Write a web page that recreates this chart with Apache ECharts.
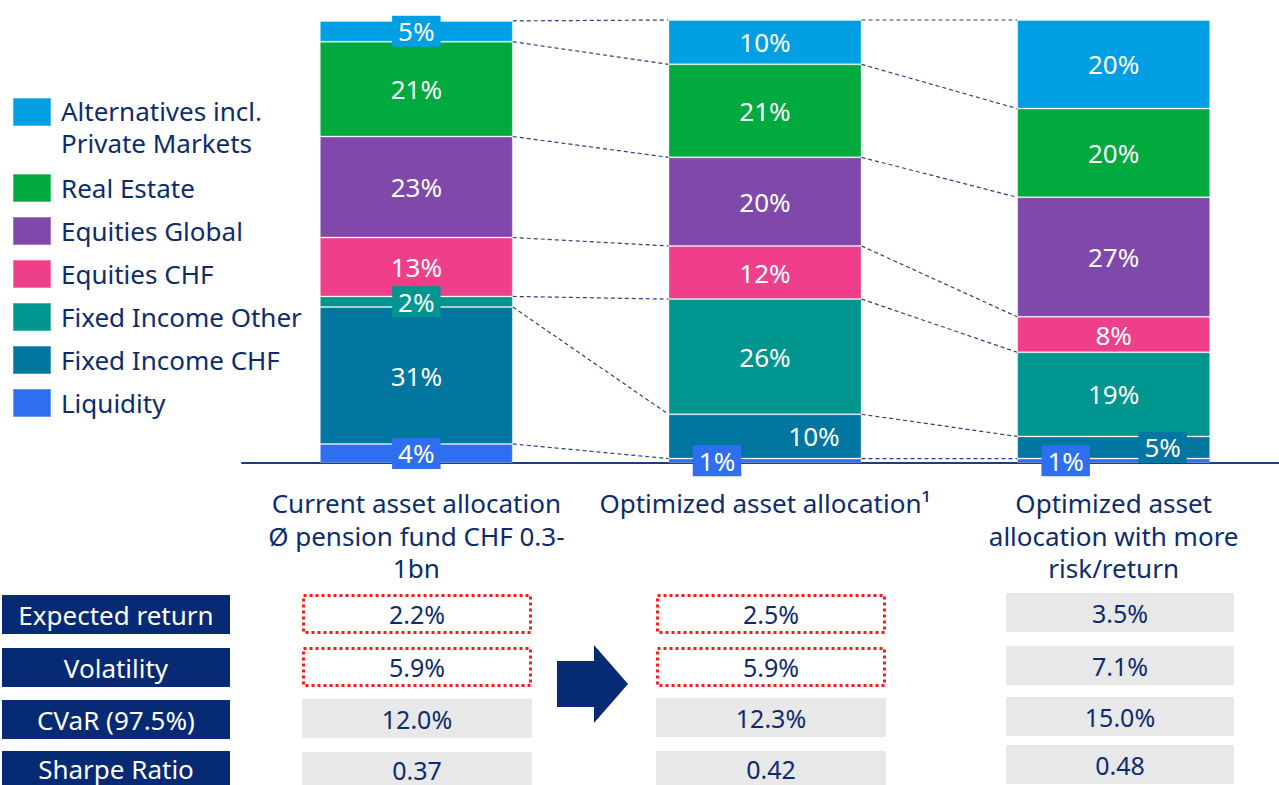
<!DOCTYPE html>
<html><head><meta charset="utf-8">
<script src="https://cdn.jsdelivr.net/npm/echarts@6/dist/echarts.min.js"></script>
<style>html,body{margin:0;padding:0;background:#fff}#main{width:1279px;height:785px}</style>
</head><body><div id="main"></div>
<script>
// ---------- DATA ----------
const categories = [
  'Current asset allocation\nØ pension fund CHF 0.3-\n1bn',
  'Optimized asset allocation¹',
  'Optimized asset\nallocation with more\nrisk/return'
];
const seriesNames = ['Liquidity', 'Fixed Income CHF', 'Fixed Income Other', 'Equities CHF',
  'Equities Global', 'Real Estate', 'Alternatives incl.\nPrivate Markets'];
const liquidity        = [4.3, 1, 1];
const fixedIncomeCHF   = [30.9, 10, 5];
const fixedIncomeOther = [2.4, 26, 19];
const equitiesCHF      = [13.3, 12, 8];
const equitiesGlobal   = [22.8, 20, 27];
const realEstate       = [21.4, 21, 20];
const alternatives     = [4.7, 10, 20];

const metricNames = ['Expected return', 'Volatility', 'CVaR (97.5%)', 'Sharpe Ratio'];
const metricsCurrent   = [2.2, 5.9, 12.0, 0.37];
const metricsOptimized = [2.5, 5.9, 12.3, 0.42];
const metricsRisk      = [3.5, 7.1, 15.0, 0.48];

// ---------- STYLE ----------
const FONT = '"Noto Sans", "Open Sans", sans-serif';
const NAVY = '#0c2c6e';
const BOX_NAVY = '#062a73';
const colors = ['#2f6fef', '#0076a0', '#00958f', '#ef3f8a', '#7f48aa', '#00aa3e', '#009fe3'];
const BAR_W = 193;
const seriesValues = [liquidity, fixedIncomeCHF, fixedIncomeOther, equitiesCHF, equitiesGlobal, realEstate, alternatives];

// label tweaks keyed by "series-category"
const labelTweaks = {
  '0-0': { bg: true },
  '0-1': { bg: true, offset: [-48, 0] },
  '0-2': { bg: true, offset: [-48, 0] },
  '1-1': { offset: [49, 0] },
  '1-2': { bg: true, offset: [49, 0] },
  '2-0': { bg: true },
  '6-0': { bg: true }
};

const barSeries = seriesValues.map((vals, s) => ({
  name: seriesNames[s],
  type: 'bar',
  stack: 'alloc',
  barWidth: BAR_W,
  z: 2,
  itemStyle: { color: colors[s], borderColor: 'rgba(255,255,255,0.3)', borderWidth: 1 },
  label: {
    show: true, position: 'inside', color: '#fff', fontSize: 26, fontFamily: FONT,
    formatter: p => Math.round(p.value) + '%'
  },
  data: vals.map((v, c) => {
    const t = labelTweaks[s + '-' + c];
    if (!t) return v;
    const lab = { offset: t.offset || [0, 0] };
    if (t.bg) { lab.backgroundColor = colors[s]; lab.padding = [3, 6, 2, 6]; }
    return { value: v, label: lab };
  })
}));

// cumulative boundaries for connectors
const bounds = categories.map((_, c) => {
  let acc = 0; const out = [];
  seriesValues.forEach(vals => { acc += vals[c]; out.push(acc); });
  return out;
});
const connData = [];
for (let c = 0; c < categories.length - 1; c++) {
  for (let k = 0; k < seriesValues.length; k++) {
    connData.push([c, bounds[c][k], bounds[c + 1][k]]);
  }
}

const connectorSeries = {
  type: 'custom',
  name: 'connectors',
  z: 1,
  silent: true,
  encode: { x: 0, y: 1 },
  data: connData,
  renderItem: (params, api) => {
    const c = api.value(0);
    const p1 = api.coord([c, api.value(1)]);
    const p2 = api.coord([c + 1, api.value(2)]);
    return {
      type: 'line',
      shape: { x1: p1[0] + BAR_W / 2, y1: p1[1], x2: p2[0] - BAR_W / 2, y2: p2[1] },
      style: { stroke: '#27447f', lineWidth: 1.2, lineDash: [4, 3] }
    };
  }
};

// ---------- TABLE (graphic) ----------
const graphics = [];
const rowTops = [595, 648, 700, 751];
const textYAdj = [0, 0, 0, -2];
metricNames.forEach((name, r) => {
  graphics.push({ type: 'rect', shape: { x: 2, y: rowTops[r], width: 228, height: 39 }, style: { fill: BOX_NAVY } });
  graphics.push({ type: 'text', style: { text: name, x: 116, y: rowTops[r] + 19.5 + textYAdj[r], align: 'center', verticalAlign: 'middle', fill: '#fff', fontSize: 26, fontFamily: FONT } });
});
const cols = [
  { vals: metricsCurrent, x: 302, w: 230, tops: [594, 647, 699, 752], hl: [0, 1] },
  { vals: metricsOptimized, x: 656, w: 230, tops: [594, 647, 698, 751], hl: [0, 1] },
  { vals: metricsRisk, x: 1006, w: 228, tops: [593, 646, 697, 745], hl: [] }
];
const fmt = (v, r) => r < 3 ? v.toFixed(1) + '%' : v.toFixed(2);
cols.forEach(col => {
  col.vals.forEach((v, r) => {
    const y = col.tops[r], h = 40;
    if (col.hl.indexOf(r) >= 0) {
      graphics.push({ type: 'rect', shape: { x: col.x + 1.5, y: y + 1.5, width: col.w - 3, height: h - 3 },
        style: { fill: 'none', stroke: '#ff1a1a', lineWidth: 3, lineDash: [3, 3] } });
    } else {
      graphics.push({ type: 'rect', shape: { x: col.x, y: y, width: col.w, height: h - 1 }, style: { fill: '#e8e8e8' } });
    }
    graphics.push({ type: 'text', style: { text: fmt(v, r), x: col.x + col.w / 2, y: y + 19.5 + (r === 3 && y > 748 ? -2 : 0), align: 'center', verticalAlign: 'middle', fill: NAVY, fontSize: 25, fontFamily: FONT } });
  });
});
// arrow
graphics.push({ type: 'polygon', shape: { points: [[557, 661], [594, 661], [594, 645], [628, 684], [594, 723], [594, 707], [557, 707]] }, style: { fill: BOX_NAVY } });

const legendOrder = [6, 5, 4, 3, 2, 1, 0];

const option = {
  animation: false,
  textStyle: { fontFamily: FONT },
  grid: { left: 242, width: 1046, top: 20, bottom: 322, containLabel: false, outerBoundsMode: 'none' },
  legend: {
    orient: 'vertical', left: 12, top: 64, padding: 0,
    itemWidth: 38, itemHeight: 28, itemGap: 13, icon: 'rect', selectedMode: false,
    textStyle: {
      fontSize: 26, color: NAVY, fontFamily: FONT, lineHeight: 30, padding: [0, 0, 0, 5],
      rich: {
        e: { fontSize: 26, lineHeight: 31, color: NAVY, fontFamily: FONT },
        a: { fontSize: 26, lineHeight: 31, color: NAVY, fontFamily: FONT },
        b: { fontSize: 26, lineHeight: 34, color: NAVY, fontFamily: FONT }
      }
    },
    formatter: name => name.indexOf('\n') >= 0
      ? '{e| }\n' + name.split('\n').map((l, i) => (i === 0 ? '{a|' : '{b|') + l + '}').join('\n')
      : name,
    data: legendOrder.map(i => seriesNames[i])
  },
  xAxis: {
    type: 'category', data: categories,
    axisTick: { show: false },
    axisLine: { lineStyle: { color: '#1d3d7d', width: 2 } },
    axisLabel: { interval: 0, margin: 24, fontSize: 26, lineHeight: 32.5, color: NAVY, fontFamily: FONT }
  },
  yAxis: { type: 'value', min: 0, max: 100, show: false },
  series: [...barSeries, connectorSeries],
  graphic: graphics
};

const chart = echarts.init(document.getElementById('main'), null, { renderer: 'svg' });
chart.setOption(option);
</script>
</body></html>
